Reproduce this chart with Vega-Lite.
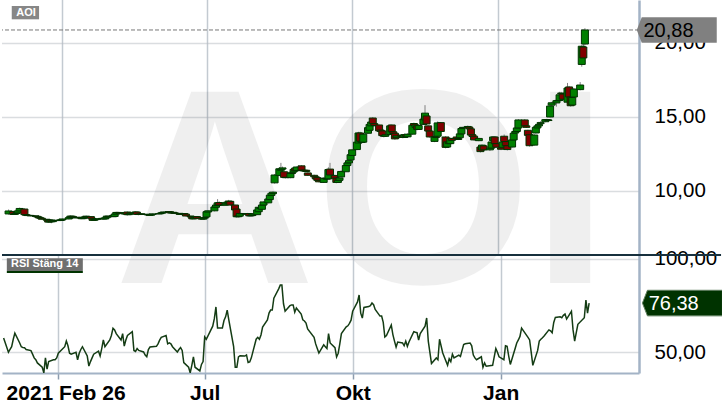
{
  "$schema": "https://vega.github.io/schema/vega-lite/v6.json",
  "padding": 0,
  "background": "white",
  "spacing": 0,
  "bounds": "flush",
  "config": {
    "view": {"stroke": null},
    "font": "Liberation Sans",
    "axis": {"labelFont": "Liberation Sans", "labelOverlap": false}
  },
  "datasets": {
    "p": [
      {"d": "2021-02-26", "o": 8.45, "h": 8.75, "l": 8.40, "c": 8.65, "r": 57.7},
      {"d": "2021-03-01", "o": 8.62, "h": 8.66, "l": 8.38, "c": 8.42, "r": 50.0},
      {"d": "2021-03-02", "o": 8.42, "h": 8.52, "l": 8.38, "c": 8.48, "r": 51.5},
      {"d": "2021-03-03", "o": 8.48, "h": 8.58, "l": 8.44, "c": 8.54, "r": 53.0},
      {"d": "2021-03-04", "o": 8.52, "h": 8.70, "l": 8.48, "c": 8.66, "r": 57.0},
      {"d": "2021-03-05", "o": 8.66, "h": 8.88, "l": 8.62, "c": 8.82, "r": 60.3},
      {"d": "2021-03-08", "o": 8.78, "h": 8.84, "l": 8.34, "c": 8.40, "r": 55.0},
      {"d": "2021-03-09", "o": 8.40, "h": 8.45, "l": 8.32, "c": 8.36, "r": 53.0},
      {"d": "2021-03-10", "o": 8.36, "h": 8.42, "l": 8.30, "c": 8.34, "r": 52.5},
      {"d": "2021-03-11", "o": 8.34, "h": 8.40, "l": 8.30, "c": 8.35, "r": 52.4},
      {"d": "2021-03-12", "o": 8.35, "h": 8.38, "l": 8.28, "c": 8.32, "r": 51.5},
      {"d": "2021-03-15", "o": 8.32, "h": 8.34, "l": 8.26, "c": 8.29, "r": 50.9},
      {"d": "2021-03-16", "o": 8.29, "h": 8.31, "l": 8.22, "c": 8.25, "r": 49.0},
      {"d": "2021-03-17", "o": 8.25, "h": 8.27, "l": 8.16, "c": 8.19, "r": 47.0},
      {"d": "2021-03-18", "o": 8.19, "h": 8.22, "l": 8.12, "c": 8.16, "r": 46.0},
      {"d": "2021-03-19", "o": 8.16, "h": 8.18, "l": 8.06, "c": 8.09, "r": 44.3},
      {"d": "2021-03-22", "o": 8.09, "h": 8.11, "l": 8.00, "c": 8.03, "r": 42.0},
      {"d": "2021-03-23", "o": 8.03, "h": 8.05, "l": 7.84, "c": 7.90, "r": 39.0},
      {"d": "2021-03-24", "o": 7.91, "h": 8.08, "l": 7.89, "c": 8.04, "r": 47.0},
      {"d": "2021-03-25", "o": 8.04, "h": 8.06, "l": 7.82, "c": 7.92, "r": 41.0},
      {"d": "2021-03-26", "o": 7.93, "h": 8.03, "l": 7.90, "c": 8.00, "r": 45.0},
      {"d": "2021-03-29", "o": 8.00, "h": 8.05, "l": 7.96, "c": 8.02, "r": 46.0},
      {"d": "2021-03-30", "o": 8.02, "h": 8.05, "l": 7.98, "c": 8.01, "r": 46.0},
      {"d": "2021-03-31", "o": 8.01, "h": 8.08, "l": 7.99, "c": 8.05, "r": 47.0},
      {"d": "2021-04-01", "o": 8.05, "h": 8.14, "l": 8.03, "c": 8.11, "r": 49.5},
      {"d": "2021-04-05", "o": 8.11, "h": 8.24, "l": 8.09, "c": 8.20, "r": 53.0},
      {"d": "2021-04-06", "o": 8.20, "h": 8.36, "l": 8.18, "c": 8.30, "r": 56.0},
      {"d": "2021-04-07", "o": 8.30, "h": 8.33, "l": 8.22, "c": 8.26, "r": 53.5},
      {"d": "2021-04-08", "o": 8.26, "h": 8.28, "l": 8.17, "c": 8.20, "r": 49.5},
      {"d": "2021-04-09", "o": 8.20, "h": 8.24, "l": 8.15, "c": 8.19, "r": 49.0},
      {"d": "2021-04-12", "o": 8.19, "h": 8.25, "l": 8.16, "c": 8.22, "r": 50.0},
      {"d": "2021-04-13", "o": 8.22, "h": 8.24, "l": 8.10, "c": 8.13, "r": 46.0},
      {"d": "2021-04-14", "o": 8.13, "h": 8.22, "l": 8.11, "c": 8.19, "r": 49.5},
      {"d": "2021-04-15", "o": 8.19, "h": 8.28, "l": 8.15, "c": 8.24, "r": 51.5},
      {"d": "2021-04-16", "o": 8.30, "h": 8.34, "l": 8.20, "c": 8.27, "r": 53.0},
      {"d": "2021-04-19", "o": 8.27, "h": 8.29, "l": 8.12, "c": 8.15, "r": 48.0},
      {"d": "2021-04-20", "o": 8.15, "h": 8.17, "l": 7.98, "c": 8.02, "r": 42.6},
      {"d": "2021-04-21", "o": 8.02, "h": 8.10, "l": 8.00, "c": 8.06, "r": 45.0},
      {"d": "2021-04-22", "o": 8.06, "h": 8.12, "l": 8.02, "c": 8.09, "r": 47.0},
      {"d": "2021-04-23", "o": 8.09, "h": 8.15, "l": 8.05, "c": 8.12, "r": 49.0},
      {"d": "2021-04-26", "o": 8.12, "h": 8.19, "l": 8.10, "c": 8.15, "r": 50.6},
      {"d": "2021-04-27", "o": 8.15, "h": 8.17, "l": 8.08, "c": 8.11, "r": 48.0},
      {"d": "2021-04-28", "o": 8.11, "h": 8.22, "l": 8.09, "c": 8.19, "r": 52.0},
      {"d": "2021-04-29", "o": 8.19, "h": 8.33, "l": 8.17, "c": 8.30, "r": 56.6},
      {"d": "2021-04-30", "o": 8.30, "h": 8.32, "l": 8.22, "c": 8.26, "r": 53.0},
      {"d": "2021-05-03", "o": 8.26, "h": 8.38, "l": 8.24, "c": 8.35, "r": 56.6},
      {"d": "2021-05-04", "o": 8.28, "h": 8.48, "l": 8.25, "c": 8.44, "r": 59.0},
      {"d": "2021-05-05", "o": 8.44, "h": 8.60, "l": 8.42, "c": 8.55, "r": 62.9},
      {"d": "2021-05-06", "o": 8.55, "h": 8.60, "l": 8.48, "c": 8.53, "r": 62.0},
      {"d": "2021-05-07", "o": 8.53, "h": 8.56, "l": 8.46, "c": 8.50, "r": 60.0},
      {"d": "2021-05-10", "o": 8.50, "h": 8.52, "l": 8.42, "c": 8.45, "r": 56.6},
      {"d": "2021-05-11", "o": 8.45, "h": 8.58, "l": 8.43, "c": 8.54, "r": 60.0},
      {"d": "2021-05-12", "o": 8.58, "h": 8.62, "l": 8.34, "c": 8.40, "r": 53.3},
      {"d": "2021-05-13", "o": 8.40, "h": 8.50, "l": 8.38, "c": 8.46, "r": 56.6},
      {"d": "2021-05-14", "o": 8.46, "h": 8.56, "l": 8.44, "c": 8.52, "r": 59.0},
      {"d": "2021-05-17", "o": 8.52, "h": 8.64, "l": 8.50, "c": 8.58, "r": 61.0},
      {"d": "2021-05-18", "o": 8.58, "h": 8.60, "l": 8.38, "c": 8.42, "r": 51.0},
      {"d": "2021-05-19", "o": 8.42, "h": 8.46, "l": 8.36, "c": 8.41, "r": 50.5},
      {"d": "2021-05-20", "o": 8.41, "h": 8.48, "l": 8.39, "c": 8.45, "r": 52.0},
      {"d": "2021-05-21", "o": 8.45, "h": 8.47, "l": 8.40, "c": 8.43, "r": 51.0},
      {"d": "2021-05-24", "o": 8.43, "h": 8.45, "l": 8.37, "c": 8.41, "r": 50.2},
      {"d": "2021-05-25", "o": 8.41, "h": 8.43, "l": 8.34, "c": 8.38, "r": 48.5},
      {"d": "2021-05-26", "o": 8.38, "h": 8.40, "l": 8.32, "c": 8.36, "r": 47.6},
      {"d": "2021-05-27", "o": 8.36, "h": 8.44, "l": 8.34, "c": 8.42, "r": 51.5},
      {"d": "2021-05-28", "o": 8.42, "h": 8.48, "l": 8.40, "c": 8.45, "r": 52.8},
      {"d": "2021-06-01", "o": 8.45, "h": 8.50, "l": 8.43, "c": 8.47, "r": 53.2},
      {"d": "2021-06-02", "o": 8.47, "h": 8.53, "l": 8.45, "c": 8.50, "r": 54.5},
      {"d": "2021-06-03", "o": 8.50, "h": 8.58, "l": 8.48, "c": 8.55, "r": 56.5},
      {"d": "2021-06-04", "o": 8.55, "h": 8.62, "l": 8.52, "c": 8.58, "r": 58.0},
      {"d": "2021-06-07", "o": 8.58, "h": 8.64, "l": 8.54, "c": 8.60, "r": 59.0},
      {"d": "2021-06-08", "o": 8.60, "h": 8.62, "l": 8.48, "c": 8.52, "r": 54.5},
      {"d": "2021-06-09", "o": 8.52, "h": 8.58, "l": 8.50, "c": 8.54, "r": 55.0},
      {"d": "2021-06-10", "o": 8.56, "h": 8.58, "l": 8.48, "c": 8.52, "r": 54.5},
      {"d": "2021-06-11", "o": 8.52, "h": 8.54, "l": 8.44, "c": 8.49, "r": 53.0},
      {"d": "2021-06-14", "o": 8.49, "h": 8.51, "l": 8.38, "c": 8.42, "r": 50.2},
      {"d": "2021-06-15", "o": 8.42, "h": 8.48, "l": 8.40, "c": 8.45, "r": 51.5},
      {"d": "2021-06-16", "o": 8.45, "h": 8.50, "l": 8.43, "c": 8.47, "r": 52.5},
      {"d": "2021-06-17", "o": 8.47, "h": 8.49, "l": 8.40, "c": 8.44, "r": 51.0},
      {"d": "2021-06-18", "o": 8.44, "h": 8.46, "l": 8.28, "c": 8.31, "r": 44.5},
      {"d": "2021-06-21", "o": 8.31, "h": 8.33, "l": 8.20, "c": 8.25, "r": 42.0},
      {"d": "2021-06-22", "o": 8.25, "h": 8.27, "l": 8.08, "c": 8.12, "r": 39.0},
      {"d": "2021-06-23", "o": 8.12, "h": 8.22, "l": 8.10, "c": 8.19, "r": 43.0},
      {"d": "2021-06-24", "o": 8.19, "h": 8.30, "l": 8.17, "c": 8.27, "r": 47.5},
      {"d": "2021-06-25", "o": 8.27, "h": 8.29, "l": 8.12, "c": 8.16, "r": 42.0},
      {"d": "2021-06-28", "o": 8.16, "h": 8.18, "l": 8.06, "c": 8.10, "r": 40.0},
      {"d": "2021-06-29", "o": 8.10, "h": 8.20, "l": 8.08, "c": 8.17, "r": 43.5},
      {"d": "2021-06-30", "o": 8.17, "h": 8.24, "l": 8.15, "c": 8.21, "r": 45.0},
      {"d": "2021-07-01", "o": 8.25, "h": 8.66, "l": 8.22, "c": 8.60, "r": 58.2},
      {"d": "2021-07-02", "o": 8.58, "h": 8.70, "l": 8.52, "c": 8.66, "r": 57.0},
      {"d": "2021-07-06", "o": 8.66, "h": 8.98, "l": 8.62, "c": 8.92, "r": 64.0},
      {"d": "2021-07-07", "o": 8.90, "h": 9.12, "l": 8.86, "c": 9.05, "r": 68.0},
      {"d": "2021-07-08", "o": 9.02, "h": 9.45, "l": 8.98, "c": 9.20, "r": 74.3},
      {"d": "2021-07-09", "o": 9.22, "h": 9.30, "l": 9.00, "c": 9.05, "r": 63.0},
      {"d": "2021-07-12", "o": 9.05, "h": 9.12, "l": 8.98, "c": 9.06, "r": 63.0},
      {"d": "2021-07-13", "o": 9.06, "h": 9.28, "l": 9.02, "c": 9.18, "r": 67.0},
      {"d": "2021-07-14", "o": 9.18, "h": 9.32, "l": 9.12, "c": 9.24, "r": 69.0},
      {"d": "2021-07-15", "o": 9.20, "h": 9.40, "l": 9.15, "c": 9.32, "r": 72.6},
      {"d": "2021-07-16", "o": 9.30, "h": 9.34, "l": 9.00, "c": 9.05, "r": 67.4},
      {"d": "2021-07-19", "o": 9.05, "h": 9.08, "l": 8.68, "c": 8.72, "r": 53.0},
      {"d": "2021-07-20", "o": 8.78, "h": 8.82, "l": 8.20, "c": 8.26, "r": 42.0},
      {"d": "2021-07-21", "o": 8.26, "h": 8.40, "l": 8.20, "c": 8.32, "r": 42.0},
      {"d": "2021-07-22", "o": 8.30, "h": 8.52, "l": 8.28, "c": 8.48, "r": 47.5},
      {"d": "2021-07-23", "o": 8.48, "h": 8.52, "l": 8.40, "c": 8.46, "r": 48.2},
      {"d": "2021-07-26", "o": 8.46, "h": 8.50, "l": 8.40, "c": 8.44, "r": 48.0},
      {"d": "2021-07-27", "o": 8.44, "h": 8.52, "l": 8.42, "c": 8.47, "r": 48.6},
      {"d": "2021-07-28", "o": 8.47, "h": 8.49, "l": 8.28, "c": 8.32, "r": 44.5},
      {"d": "2021-07-29", "o": 8.32, "h": 8.38, "l": 8.28, "c": 8.34, "r": 44.8},
      {"d": "2021-07-30", "o": 8.34, "h": 8.50, "l": 8.30, "c": 8.44, "r": 47.0},
      {"d": "2021-08-02", "o": 8.40, "h": 8.80, "l": 8.38, "c": 8.72, "r": 57.0},
      {"d": "2021-08-03", "o": 8.60, "h": 8.96, "l": 8.55, "c": 8.90, "r": 58.0},
      {"d": "2021-08-04", "o": 8.82, "h": 8.96, "l": 8.74, "c": 8.86, "r": 57.0},
      {"d": "2021-08-05", "o": 8.76, "h": 9.10, "l": 8.72, "c": 9.05, "r": 59.3},
      {"d": "2021-08-06", "o": 9.05, "h": 9.30, "l": 9.02, "c": 9.26, "r": 63.5},
      {"d": "2021-08-09", "o": 9.20, "h": 9.50, "l": 9.16, "c": 9.46, "r": 67.3},
      {"d": "2021-08-10", "o": 9.42, "h": 9.76, "l": 9.38, "c": 9.72, "r": 71.0},
      {"d": "2021-08-11", "o": 9.70, "h": 9.90, "l": 9.66, "c": 9.85, "r": 72.6},
      {"d": "2021-08-12", "o": 9.82, "h": 9.98, "l": 9.78, "c": 9.92, "r": 72.6},
      {"d": "2021-08-13", "o": 10.55, "h": 11.15, "l": 10.50, "c": 11.08, "r": 79.0},
      {"d": "2021-08-16", "o": 11.05, "h": 11.60, "l": 11.00, "c": 11.50, "r": 84.0},
      {"d": "2021-08-17", "o": 11.40, "h": 11.90, "l": 11.34, "c": 11.48, "r": 86.0},
      {"d": "2021-08-18", "o": 11.48, "h": 11.65, "l": 11.42, "c": 11.56, "r": 86.0},
      {"d": "2021-08-19", "o": 11.30, "h": 11.36, "l": 10.86, "c": 10.92, "r": 76.0},
      {"d": "2021-08-20", "o": 10.92, "h": 11.00, "l": 10.84, "c": 10.90, "r": 72.0},
      {"d": "2021-08-23", "o": 10.90, "h": 11.24, "l": 10.86, "c": 11.18, "r": 75.0},
      {"d": "2021-08-24", "o": 11.18, "h": 11.30, "l": 11.12, "c": 11.26, "r": 75.4},
      {"d": "2021-08-25", "o": 11.28, "h": 11.50, "l": 11.25, "c": 11.46, "r": 75.4},
      {"d": "2021-08-26", "o": 11.55, "h": 11.62, "l": 11.32, "c": 11.36, "r": 71.5},
      {"d": "2021-08-27", "o": 11.38, "h": 11.66, "l": 11.34, "c": 11.62, "r": 73.7},
      {"d": "2021-08-30", "o": 11.70, "h": 11.74, "l": 11.36, "c": 11.40, "r": 70.5},
      {"d": "2021-08-31", "o": 11.40, "h": 11.44, "l": 11.30, "c": 11.36, "r": 67.4},
      {"d": "2021-09-01", "o": 11.36, "h": 11.48, "l": 11.32, "c": 11.40, "r": 66.8},
      {"d": "2021-09-02", "o": 11.40, "h": 11.42, "l": 11.28, "c": 11.32, "r": 65.7},
      {"d": "2021-09-03", "o": 11.22, "h": 11.26, "l": 11.02, "c": 11.06, "r": 62.5},
      {"d": "2021-09-07", "o": 11.06, "h": 11.10, "l": 10.92, "c": 10.96, "r": 58.0},
      {"d": "2021-09-08", "o": 10.96, "h": 11.00, "l": 10.78, "c": 10.82, "r": 54.5},
      {"d": "2021-09-09", "o": 10.90, "h": 10.94, "l": 10.68, "c": 10.72, "r": 52.0},
      {"d": "2021-09-10", "o": 10.72, "h": 10.78, "l": 10.58, "c": 10.62, "r": 49.6},
      {"d": "2021-09-13", "o": 10.58, "h": 10.92, "l": 10.54, "c": 10.86, "r": 54.0},
      {"d": "2021-09-14", "o": 10.86, "h": 11.02, "l": 10.80, "c": 10.84, "r": 53.0},
      {"d": "2021-09-15", "o": 10.84, "h": 10.90, "l": 10.74, "c": 10.80, "r": 52.0},
      {"d": "2021-09-16", "o": 10.82, "h": 11.60, "l": 10.80, "c": 11.45, "r": 60.0},
      {"d": "2021-09-17", "o": 11.48, "h": 11.90, "l": 11.02, "c": 11.08, "r": 55.0},
      {"d": "2021-09-20", "o": 11.05, "h": 11.10, "l": 10.80, "c": 10.86, "r": 52.5},
      {"d": "2021-09-21", "o": 10.86, "h": 10.90, "l": 10.52, "c": 10.58, "r": 47.5},
      {"d": "2021-09-22", "o": 10.58, "h": 10.78, "l": 10.54, "c": 10.72, "r": 49.5},
      {"d": "2021-09-23", "o": 10.72, "h": 10.92, "l": 10.70, "c": 10.88, "r": 54.5},
      {"d": "2021-09-24", "o": 10.95, "h": 11.40, "l": 10.92, "c": 11.32, "r": 60.0},
      {"d": "2021-09-27", "o": 11.30, "h": 11.80, "l": 11.28, "c": 11.72, "r": 63.6},
      {"d": "2021-09-28", "o": 11.72, "h": 11.98, "l": 11.68, "c": 11.90, "r": 64.2},
      {"d": "2021-09-29", "o": 11.90, "h": 12.10, "l": 11.86, "c": 12.05, "r": 65.5},
      {"d": "2021-09-30", "o": 12.10, "h": 12.50, "l": 12.05, "c": 12.45, "r": 67.2},
      {"d": "2021-10-01", "o": 12.40, "h": 12.82, "l": 12.36, "c": 12.78, "r": 72.0},
      {"d": "2021-10-04", "o": 12.80, "h": 13.35, "l": 12.76, "c": 13.30, "r": 77.0},
      {"d": "2021-10-05", "o": 13.24, "h": 14.00, "l": 13.20, "c": 13.92, "r": 80.7},
      {"d": "2021-10-06", "o": 13.92, "h": 14.00, "l": 13.30, "c": 13.36, "r": 71.0},
      {"d": "2021-10-07", "o": 13.36, "h": 13.45, "l": 13.20, "c": 13.28, "r": 68.3},
      {"d": "2021-10-08", "o": 13.30, "h": 13.90, "l": 13.26, "c": 13.84, "r": 74.0},
      {"d": "2021-10-11", "o": 13.90, "h": 14.32, "l": 13.86, "c": 14.28, "r": 74.5},
      {"d": "2021-10-12", "o": 14.10, "h": 14.55, "l": 14.05, "c": 14.50, "r": 75.0},
      {"d": "2021-10-13", "o": 14.40, "h": 14.72, "l": 14.36, "c": 14.66, "r": 76.4},
      {"d": "2021-10-14", "o": 14.93, "h": 15.00, "l": 14.48, "c": 14.55, "r": 75.5},
      {"d": "2021-10-15", "o": 14.55, "h": 14.60, "l": 14.38, "c": 14.42, "r": 73.0},
      {"d": "2021-10-18", "o": 14.46, "h": 14.50, "l": 14.02, "c": 14.06, "r": 69.4},
      {"d": "2021-10-19", "o": 14.12, "h": 14.18, "l": 13.96, "c": 14.02, "r": 69.4},
      {"d": "2021-10-20", "o": 14.06, "h": 14.10, "l": 13.70, "c": 13.74, "r": 66.0},
      {"d": "2021-10-21", "o": 13.74, "h": 13.90, "l": 13.62, "c": 13.70, "r": 58.2},
      {"d": "2021-10-22", "o": 13.70, "h": 13.86, "l": 13.66, "c": 13.80, "r": 59.0},
      {"d": "2021-10-25", "o": 13.82, "h": 14.50, "l": 13.80, "c": 14.40, "r": 64.6},
      {"d": "2021-10-26", "o": 14.46, "h": 14.50, "l": 13.95, "c": 14.00, "r": 59.5},
      {"d": "2021-10-27", "o": 14.00, "h": 14.05, "l": 13.82, "c": 13.88, "r": 56.0},
      {"d": "2021-10-28", "o": 13.90, "h": 13.94, "l": 13.46, "c": 13.52, "r": 52.8},
      {"d": "2021-10-29", "o": 13.60, "h": 13.78, "l": 13.56, "c": 13.72, "r": 55.5},
      {"d": "2021-11-01", "o": 13.78, "h": 13.82, "l": 13.64, "c": 13.70, "r": 55.0},
      {"d": "2021-11-02", "o": 13.74, "h": 13.76, "l": 13.56, "c": 13.62, "r": 53.5},
      {"d": "2021-11-03", "o": 13.62, "h": 13.86, "l": 13.58, "c": 13.80, "r": 56.0},
      {"d": "2021-11-04", "o": 13.80, "h": 13.84, "l": 13.64, "c": 13.68, "r": 53.2},
      {"d": "2021-11-05", "o": 13.66, "h": 13.90, "l": 13.62, "c": 13.84, "r": 55.5},
      {"d": "2021-11-08", "o": 13.84, "h": 14.50, "l": 13.80, "c": 14.44, "r": 61.0},
      {"d": "2021-11-09", "o": 14.56, "h": 14.62, "l": 14.40, "c": 14.44, "r": 60.7},
      {"d": "2021-11-10", "o": 14.30, "h": 14.52, "l": 14.26, "c": 14.46, "r": 60.5},
      {"d": "2021-11-11", "o": 14.40, "h": 14.44, "l": 14.10, "c": 14.16, "r": 56.6},
      {"d": "2021-11-12", "o": 14.16, "h": 14.50, "l": 14.12, "c": 14.42, "r": 60.0},
      {"d": "2021-11-15", "o": 14.50, "h": 14.92, "l": 14.46, "c": 14.86, "r": 64.0},
      {"d": "2021-11-16", "o": 14.80, "h": 15.80, "l": 14.74, "c": 15.26, "r": 68.4},
      {"d": "2021-11-17", "o": 15.07, "h": 15.12, "l": 14.48, "c": 14.53, "r": 56.0},
      {"d": "2021-11-18", "o": 14.40, "h": 14.44, "l": 14.00, "c": 14.05, "r": 50.0},
      {"d": "2021-11-19", "o": 14.05, "h": 14.10, "l": 13.60, "c": 13.65, "r": 44.0},
      {"d": "2021-11-22", "o": 13.35, "h": 13.70, "l": 13.30, "c": 13.66, "r": 47.0},
      {"d": "2021-11-23", "o": 13.66, "h": 13.72, "l": 13.56, "c": 13.62, "r": 46.0},
      {"d": "2021-11-24", "o": 13.70, "h": 14.70, "l": 13.66, "c": 14.60, "r": 57.0},
      {"d": "2021-11-26", "o": 14.62, "h": 14.66, "l": 13.96, "c": 14.02, "r": 49.6},
      {"d": "2021-11-29", "o": 13.65, "h": 13.70, "l": 12.88, "c": 12.95, "r": 43.0},
      {"d": "2021-11-30", "o": 12.97, "h": 13.40, "l": 12.92, "c": 13.32, "r": 46.5},
      {"d": "2021-12-01", "o": 13.30, "h": 13.66, "l": 13.12, "c": 13.20, "r": 45.0},
      {"d": "2021-12-02", "o": 13.20, "h": 13.60, "l": 13.16, "c": 13.55, "r": 49.0},
      {"d": "2021-12-03", "o": 13.55, "h": 13.58, "l": 13.38, "c": 13.42, "r": 47.0},
      {"d": "2021-12-06", "o": 13.65, "h": 13.70, "l": 13.44, "c": 13.55, "r": 48.5},
      {"d": "2021-12-07", "o": 13.55, "h": 13.60, "l": 13.44, "c": 13.48, "r": 47.8},
      {"d": "2021-12-08", "o": 13.60, "h": 13.92, "l": 13.56, "c": 13.86, "r": 51.0},
      {"d": "2021-12-09", "o": 13.86, "h": 14.30, "l": 13.82, "c": 14.22, "r": 54.2},
      {"d": "2021-12-10", "o": 14.26, "h": 14.34, "l": 14.18, "c": 14.30, "r": 54.6},
      {"d": "2021-12-13", "o": 14.30, "h": 14.42, "l": 14.24, "c": 14.36, "r": 55.0},
      {"d": "2021-12-14", "o": 14.32, "h": 14.36, "l": 14.14, "c": 14.20, "r": 53.5},
      {"d": "2021-12-15", "o": 14.20, "h": 14.24, "l": 13.74, "c": 13.78, "r": 48.5},
      {"d": "2021-12-16", "o": 13.80, "h": 13.86, "l": 13.62, "c": 13.68, "r": 47.0},
      {"d": "2021-12-17", "o": 13.70, "h": 13.74, "l": 13.40, "c": 13.45, "r": 46.0},
      {"d": "2021-12-20", "o": 13.40, "h": 13.60, "l": 13.36, "c": 13.55, "r": 47.6},
      {"d": "2021-12-21", "o": 12.97, "h": 13.00, "l": 12.60, "c": 12.66, "r": 42.0},
      {"d": "2021-12-22", "o": 12.77, "h": 13.15, "l": 12.72, "c": 13.10, "r": 44.3},
      {"d": "2021-12-23", "o": 13.05, "h": 13.08, "l": 12.70, "c": 12.78, "r": 42.5},
      {"d": "2021-12-27", "o": 12.78, "h": 12.95, "l": 12.70, "c": 12.90, "r": 43.0},
      {"d": "2021-12-28", "o": 12.90, "h": 13.36, "l": 12.86, "c": 13.31, "r": 47.5},
      {"d": "2021-12-29", "o": 13.40, "h": 13.70, "l": 13.36, "c": 13.65, "r": 52.0},
      {"d": "2021-12-30", "o": 13.65, "h": 13.68, "l": 13.14, "c": 13.20, "r": 50.0},
      {"d": "2021-12-31", "o": 13.20, "h": 13.24, "l": 12.90, "c": 12.96, "r": 47.6},
      {"d": "2022-01-03", "o": 12.92, "h": 12.98, "l": 12.76, "c": 12.82, "r": 46.0},
      {"d": "2022-01-04", "o": 12.95, "h": 13.36, "l": 12.90, "c": 13.30, "r": 53.5},
      {"d": "2022-01-05", "o": 13.70, "h": 13.82, "l": 13.30, "c": 13.34, "r": 53.2},
      {"d": "2022-01-06", "o": 13.34, "h": 13.40, "l": 13.00, "c": 13.06, "r": 48.0},
      {"d": "2022-01-07", "o": 13.06, "h": 13.10, "l": 12.74, "c": 12.80, "r": 43.5},
      {"d": "2022-01-10", "o": 12.97, "h": 13.50, "l": 12.92, "c": 13.45, "r": 52.0},
      {"d": "2022-01-11", "o": 13.45, "h": 13.96, "l": 13.40, "c": 13.90, "r": 55.0},
      {"d": "2022-01-12", "o": 13.92, "h": 14.30, "l": 13.88, "c": 14.02, "r": 56.6},
      {"d": "2022-01-13", "o": 14.02, "h": 14.30, "l": 13.98, "c": 14.26, "r": 58.5},
      {"d": "2022-01-14", "o": 14.26, "h": 14.86, "l": 14.20, "c": 14.80, "r": 63.0},
      {"d": "2022-01-18", "o": 14.80, "h": 14.86, "l": 14.34, "c": 14.40, "r": 58.0},
      {"d": "2022-01-19", "o": 14.40, "h": 14.46, "l": 14.26, "c": 14.30, "r": 56.6},
      {"d": "2022-01-20", "o": 14.10, "h": 14.14, "l": 13.70, "c": 13.76, "r": 50.0},
      {"d": "2022-01-21", "o": 13.80, "h": 13.84, "l": 13.00, "c": 13.06, "r": 43.0},
      {"d": "2022-01-24", "o": 13.10, "h": 13.84, "l": 13.06, "c": 13.78, "r": 51.0},
      {"d": "2022-01-25", "o": 13.92, "h": 14.36, "l": 13.88, "c": 14.30, "r": 56.0},
      {"d": "2022-01-26", "o": 14.26, "h": 14.46, "l": 14.22, "c": 14.40, "r": 57.0},
      {"d": "2022-01-27", "o": 14.40, "h": 14.68, "l": 14.36, "c": 14.50, "r": 57.8},
      {"d": "2022-01-28", "o": 14.55, "h": 14.72, "l": 14.50, "c": 14.62, "r": 58.7},
      {"d": "2022-01-31", "o": 14.68, "h": 14.86, "l": 14.64, "c": 14.82, "r": 62.0},
      {"d": "2022-02-01", "o": 14.82, "h": 14.88, "l": 14.72, "c": 14.80, "r": 61.5},
      {"d": "2022-02-02", "o": 14.80, "h": 14.84, "l": 14.70, "c": 14.76, "r": 60.5},
      {"d": "2022-02-03", "o": 15.00, "h": 15.80, "l": 14.96, "c": 15.74, "r": 66.0},
      {"d": "2022-02-04", "o": 15.80, "h": 16.02, "l": 15.76, "c": 15.96, "r": 68.7},
      {"d": "2022-02-07", "o": 15.95, "h": 16.30, "l": 15.70, "c": 16.10, "r": 69.0},
      {"d": "2022-02-08", "o": 16.10, "h": 16.34, "l": 16.02, "c": 16.12, "r": 68.5},
      {"d": "2022-02-09", "o": 16.12, "h": 16.70, "l": 16.08, "c": 16.50, "r": 69.8},
      {"d": "2022-02-10", "o": 16.62, "h": 16.70, "l": 16.50, "c": 16.58, "r": 70.5},
      {"d": "2022-02-11", "o": 16.55, "h": 16.60, "l": 16.14, "c": 16.20, "r": 67.8},
      {"d": "2022-02-14", "o": 16.00, "h": 17.30, "l": 15.88, "c": 16.96, "r": 72.0},
      {"d": "2022-02-15", "o": 17.03, "h": 17.10, "l": 16.30, "c": 16.35, "r": 62.0},
      {"d": "2022-02-16", "o": 16.35, "h": 16.40, "l": 15.70, "c": 15.76, "r": 56.0},
      {"d": "2022-02-17", "o": 15.81, "h": 16.40, "l": 15.78, "c": 16.32, "r": 60.5},
      {"d": "2022-02-18", "o": 16.35, "h": 16.96, "l": 16.30, "c": 16.89, "r": 65.0},
      {"d": "2022-02-22", "o": 16.85, "h": 17.36, "l": 16.80, "c": 17.16, "r": 68.5},
      {"d": "2022-02-23", "o": 18.55, "h": 19.85, "l": 18.40, "c": 19.78, "r": 78.0},
      {"d": "2022-02-24", "o": 19.73, "h": 19.95, "l": 18.90, "c": 18.99, "r": 71.0},
      {"d": "2022-02-25", "o": 19.93, "h": 21.00, "l": 19.85, "c": 20.88, "r": 76.38}
    ]
  },
  "vconcat": [
    {
      "width": 637,
      "height": 255,
      "layer": [
        {
          "data": {"values": [{}]},
          "mark": {"type": "text", "text": "AOI", "font": "Liberation Sans", "fontWeight": "bold", "fontSize": 278, "color": "#000000", "opacity": 0.06, "align": "center", "baseline": "alphabetic"},
          "encoding": {
            "x": {"datum": {"year": 2021, "month": 10, "date": 7, "utc": true}, "type": "temporal"},
            "y": {"datum": 3.78, "type": "quantitative"}
          }
        },
        {
          "data": {"values": [{}]},
          "mark": {"type": "rule", "color": "#777777", "strokeWidth": 1, "strokeDash": [4, 2]},
          "encoding": {
            "y": {"datum": 20.88, "type": "quantitative"}
          }
        },
        {
          "data": {"name": "p"},
          "mark": {"type": "rule", "color": "#808080", "strokeWidth": 1},
          "encoding": {
            "x": {
              "field": "d",
              "type": "temporal",
              "scale": {"type": "utc", "domain": [{"year": 2021, "month": 2, "date": 25, "utc": true}, {"year": 2022, "month": 3, "date": 28, "utc": true}]},
              "axis": {
                "title": null,
                "values": [
                  {"year": 2021, "month": 4, "date": 1, "utc": true},
                  {"year": 2021, "month": 7, "date": 1, "utc": true},
                  {"year": 2021, "month": 10, "date": 1, "utc": true},
                  {"year": 2022, "month": 1, "date": 1, "utc": true}
                ],
                "labels": false,
                "ticks": false,
                "domain": false,
                "grid": true,
                "gridColor": "#8796a3",
                "gridDash": [1, 1],
                "gridWidth": 1.5
              }
            },
            "y": {
              "field": "l",
              "type": "quantitative",
              "scale": {"domain": [5.675, 22.905], "nice": false, "zero": false},
              "axis": {
                "orient": "right",
                "title": null,
                "values": [10, 15, 20],
                "ticks": false,
                "tickSize": 0,
                "labelPadding": 15,
                "labelExpr": "replace(format(datum.value, '.2f'), '.', ',')",
                "labelFontSize": 20.5,
                "labelColor": "#000000",
                "grid": true,
                "gridColor": "#b4bac0",
                "gridDash": [1, 1],
                "gridWidth": 1.5,
                "domainColor": "#a3b3c6",
                "domainWidth": 2.5
              }
            },
            "y2": {"field": "h"}
          }
        },
        {
          "data": {"name": "p"},
          "mark": {"type": "bar", "width": 7, "stroke": "#003300", "strokeWidth": 1},
          "encoding": {
            "x": {"field": "d", "type": "temporal"},
            "y": {"field": "o", "type": "quantitative"},
            "y2": {"field": "c"},
            "color": {"condition": {"test": "datum.c >= datum.o", "value": "#008000"}, "value": "#800000"}
          }
        },
        {
          "data": {"values": [{}]},
          "mark": {"type": "rect", "color": "#878787"},
          "encoding": {
            "x": {"datum": {"year": 2021, "month": 2, "date": 28, "utc": true}, "type": "temporal"},
            "x2": {"datum": {"year": 2021, "month": 3, "date": 17, "hours": 6, "utc": true}},
            "y": {"datum": 22.5, "type": "quantitative"},
            "y2": {"datum": 21.6}
          }
        },
        {
          "data": {"values": [{}]},
          "mark": {"type": "text", "text": "AOI", "fontWeight": "bold", "fontSize": 11, "color": "#ffffff", "align": "center", "baseline": "middle"},
          "encoding": {
            "x": {"datum": {"year": 2021, "month": 3, "date": 9, "utc": true}, "type": "temporal"},
            "y": {"datum": 22.05, "type": "quantitative"}
          }
        },
        {
          "data": {"values": [{}]},
          "mark": {"type": "point", "shape": "M-1,0L-0.875,-0.32L1,-0.32L1,0.32L-0.875,0.32Z", "size": 6400, "filled": true, "color": "#808080", "opacity": 1},
          "encoding": {
            "x": {"datum": {"year": 2022, "month": 4, "date": 24, "utc": true}, "type": "temporal"},
            "y": {"datum": 20.88, "type": "quantitative"}
          }
        },
        {
          "data": {"values": [{}]},
          "mark": {"type": "text", "text": "20,88", "fontSize": 20, "color": "#000000", "align": "left", "baseline": "middle", "dy": 1},
          "encoding": {
            "x": {"datum": {"year": 2022, "month": 4, "date": 3, "utc": true}, "type": "temporal"},
            "y": {"datum": 20.88, "type": "quantitative"}
          }
        }
      ]
    },
    {
      "width": 637,
      "height": 118,
      "layer": [
        {
          "data": {"name": "p"},
          "mark": {"type": "line", "color": "#143c14", "strokeWidth": 1.5},
          "encoding": {
            "x": {
              "field": "d",
              "type": "temporal",
              "scale": {"type": "utc", "domain": [{"year": 2021, "month": 2, "date": 25, "utc": true}, {"year": 2022, "month": 3, "date": 28, "utc": true}]},
              "axis": {
                "title": null,
                "values": [
                  {"year": 2021, "month": 2, "date": 27, "hours": 12, "utc": true},
                  {"year": 2021, "month": 4, "date": 1, "utc": true},
                  {"year": 2021, "month": 7, "date": 1, "utc": true},
                  {"year": 2021, "month": 10, "date": 1, "utc": true},
                  {"year": 2022, "month": 1, "date": 1, "utc": true}
                ],
                "labelExpr": "utcmonth(datum.value) == 1 ? '2021 Feb 26' : utcmonth(datum.value) == 6 ? 'Jul' : utcmonth(datum.value) == 9 ? 'Okt' : utcmonth(datum.value) == 0 ? 'Jan' : ''",
                "labelFlush": false,
                "labelFontSize": 21,
                "labelFontWeight": "bold",
                "labelColor": "#000000",
                "labelPadding": 3,
                "labelAlign": {"condition": {"test": "utcmonth(datum.value) == 1", "value": "left"}, "value": "center"},
                "tickSize": 6,
                "tickWidth": 1.5,
                "tickColor": "#8c9cae",
                "tickOpacity": {"condition": {"test": "utcmonth(datum.value) == 1", "value": 0}, "value": 1},
                "grid": true,
                "gridColor": "#8796a3",
                "gridDash": [1, 1],
                "gridWidth": 1.5,
                "gridOpacity": {"condition": {"test": "utcmonth(datum.value) == 1", "value": 0}, "value": 1},
                "domainColor": "#a3b3c6",
                "domainWidth": 2
              }
            },
            "y": {
              "field": "r",
              "type": "quantitative",
              "scale": {"domain": [38.9, 102.14], "nice": false, "zero": false},
              "axis": {
                "orient": "right",
                "title": null,
                "values": [50, 100],
                "ticks": false,
                "tickSize": 0,
                "labelPadding": 15,
                "labelExpr": "replace(format(datum.value, '.2f'), '.', ',')",
                "labelFontSize": 20.5,
                "labelColor": "#000000",
                "grid": true,
                "gridColor": "#b4bac0",
                "gridDash": [1, 1],
                "gridWidth": 1.5,
                "domainColor": "#a3b3c6",
                "domainWidth": 2.5
              }
            }
          }
        },
        {
          "data": {"values": [{}]},
          "mark": {"type": "rule", "color": "#17303d", "strokeWidth": 2},
          "encoding": {
            "x": {"datum": {"year": 2021, "month": 2, "date": 25, "utc": true}, "type": "temporal"},
            "x2": {"datum": {"year": 2022, "month": 5, "date": 18, "utc": true}},
            "y": {"datum": 102.14, "type": "quantitative"}
          }
        },
        {
          "data": {"values": [{}]},
          "mark": {"type": "rect", "color": "#6f6f6f"},
          "encoding": {
            "x": {"datum": {"year": 2021, "month": 2, "date": 28, "utc": true}, "type": "temporal"},
            "x2": {"datum": {"year": 2021, "month": 4, "date": 16, "hours": 6, "utc": true}},
            "y": {"datum": 100.4, "type": "quantitative"},
            "y2": {"datum": 93.6}
          }
        },
        {
          "data": {"values": [{}]},
          "mark": {"type": "rect", "color": "#003300"},
          "encoding": {
            "x": {"datum": {"year": 2021, "month": 2, "date": 28, "utc": true}, "type": "temporal"},
            "x2": {"datum": {"year": 2021, "month": 4, "date": 16, "hours": 6, "utc": true}},
            "y": {"datum": 93.6, "type": "quantitative"},
            "y2": {"datum": 92.5}
          }
        },
        {
          "data": {"values": [{}]},
          "mark": {"type": "text", "text": "RSI Stäng 14", "fontWeight": "bold", "fontSize": 11, "color": "#ffffff", "align": "center", "baseline": "middle"},
          "encoding": {
            "x": {"datum": {"year": 2021, "month": 3, "date": 23, "hours": 12, "utc": true}, "type": "temporal"},
            "y": {"datum": 97.05, "type": "quantitative"}
          }
        },
        {
          "data": {"values": [{}]},
          "mark": {"type": "point", "shape": "M-1,0L-0.875,-0.32L1,-0.32L1,0.32L-0.875,0.32Z", "size": 6400, "filled": true, "color": "#003300", "stroke": "#5f7f5f", "strokeWidth": 1, "opacity": 1},
          "encoding": {
            "x": {"datum": {"year": 2022, "month": 4, "date": 24, "utc": true}, "type": "temporal"},
            "y": {"datum": 76.38, "type": "quantitative"}
          }
        },
        {
          "data": {"values": [{}]},
          "mark": {"type": "text", "text": "76,38", "fontSize": 20, "color": "#ffffff", "align": "left", "baseline": "middle", "dy": 1},
          "encoding": {
            "x": {"datum": {"year": 2022, "month": 4, "date": 3, "utc": true}, "type": "temporal"},
            "y": {"datum": 76.38, "type": "quantitative"}
          }
        }
      ]
    }
  ]
}
